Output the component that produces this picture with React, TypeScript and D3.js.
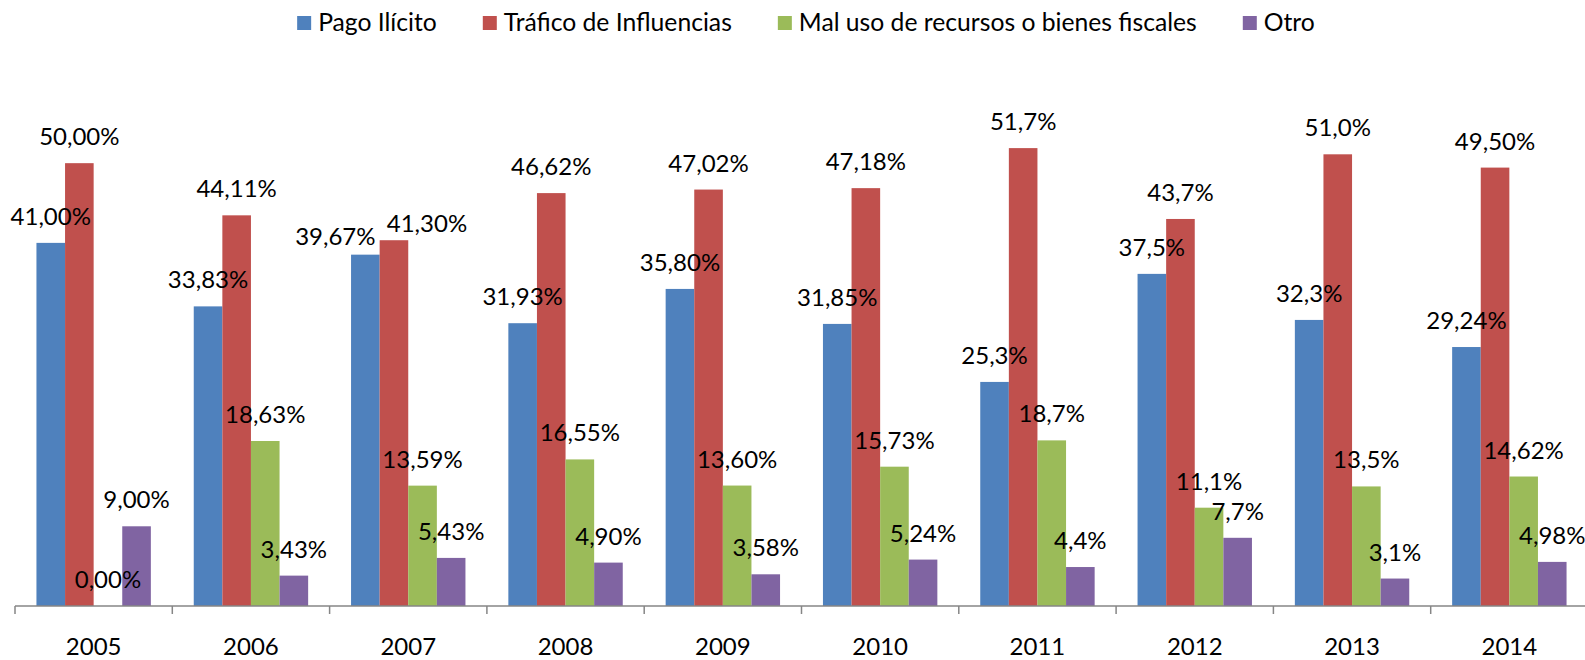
import * as React from "react";
import * as d3 from "d3";

// años del eje x
const years = ["2005", "2006", "2007", "2008", "2009", "2010", "2011", "2012", "2013", "2014"];

const seriesNames = [
  "Pago Ilícito",
  "Tráfico de Influencias",
  "Mal uso de recursos o bienes fiscales",
  "Otro",
];
const seriesColors = ["#4F81BD", "#C0504D", "#9BBB59", "#8064A2"];

// etiquetas tal como salen en el gráfico (los valores se leen de ellas)
const pagoIlicito = ["41,00", "33,83", "39,67", "31,93", "35,80", "31,85", "25,3", "37,5", "32,3", "29,24"];
const traficoInfluencias = ["50,00", "44,11", "41,30", "46,62", "47,02", "47,18", "51,7", "43,7", "51,0", "49,50"];
const malUso = ["0,00", "18,63", "13,59", "16,55", "13,60", "15,73", "18,7", "11,1", "13,5", "14,62"];
const otro = ["9,00", "3,43", "5,43", "4,90", "3,58", "5,24", "4,4", "7,7", "3,1", "4,98"];

const allSeries = [pagoIlicito, traficoInfluencias, malUso, otro];
const toNum = (s: string) => parseFloat(s.replace(",", "."));

// etiquetas movidas a mano en el original (serie, año) -> desplazamiento
const labelNudges: Record<string, [number, number]> = {
  "0-2007": [-30, 8],
  "1-2007": [33, 10],
};

const FONT = "Lato, 'Open Sans', sans-serif";

function drawChart(svgEl: SVGSVGElement) {
  const width = 1585;
  const height = 660;
  const svg = d3.select(svgEl);
  svg.selectAll("*").remove();
  svg.attr("width", width).attr("height", height);

  const left = 15;
  const step = 157.3;
  const y0 = 606;

  const x = d3
    .scaleBand<string>()
    .domain(years)
    .range([left, left + step * years.length])
    .paddingInner(0)
    .paddingOuter(0);

  const xs = d3
    .scaleBand<number>()
    .domain(d3.range(seriesNames.length))
    .range([0, x.bandwidth()])
    .paddingInner(0)
    .paddingOuter(0.75);

  const y = d3.scaleLinear().domain([0, 60]).range([y0, 74.6]);

  // barras
  allSeries.forEach((labels, si) => {
    const g = svg.append("g").attr("fill", seriesColors[si]);
    g.selectAll("rect")
      .data(labels)
      .enter()
      .append("rect")
      .attr("x", (_d, i) => (x(years[i]) as number) + (xs(si) as number))
      .attr("width", xs.bandwidth())
      .attr("y", (d) => y(toNum(d)))
      .attr("height", (d) => y0 - y(toNum(d)));
  });

  // eje x
  const axis = svg.append("g").attr("stroke", "#868686").attr("stroke-width", 1.5);
  axis
    .append("line")
    .attr("x1", left)
    .attr("x2", left + step * years.length)
    .attr("y1", y0)
    .attr("y2", y0);
  axis
    .selectAll("line.tick")
    .data(d3.range(years.length + 1))
    .enter()
    .append("line")
    .attr("class", "tick")
    .attr("x1", (i) => left + step * i)
    .attr("x2", (i) => left + step * i)
    .attr("y1", y0)
    .attr("y2", y0 + 8);

  svg
    .append("g")
    .selectAll("text")
    .data(years)
    .enter()
    .append("text")
    .attr("x", (d) => (x(d) as number) + x.bandwidth() / 2)
    .attr("y", 655)
    .attr("text-anchor", "middle")
    .attr("font-family", FONT)
    .attr("font-size", 24)
    .attr("fill", "#000")
    .text((d) => d);

  // etiquetas de datos
  allSeries.forEach((labels, si) => {
    const nudge = (i: number) => labelNudges[`${si}-${years[i]}`] || [0, 0];
    svg
      .append("g")
      .selectAll("text")
      .data(labels)
      .enter()
      .append("text")
      .attr(
        "x",
        (_d, i) => (x(years[i]) as number) + (xs(si) as number) + xs.bandwidth() / 2 + nudge(i)[0]
      )
      .attr("y", (d, i) => y(toNum(d)) - 18 + nudge(i)[1])
      .attr("text-anchor", "middle")
      .attr("font-family", FONT)
      .attr("font-size", 24)
      .attr("fill", "#000")
      .text((d) => d + "%");
  });

  // leyenda
  const legend = svg.append("g");
  const items = legend
    .selectAll("g")
    .data(seriesNames)
    .enter()
    .append("g");
  items
    .append("rect")
    .attr("width", 14)
    .attr("height", 14)
    .attr("y", 16)
    .attr("fill", (_d, i) => seriesColors[i]);
  items
    .append("text")
    .attr("x", 21)
    .attr("y", 31)
    .attr("font-family", FONT)
    .attr("font-size", 24.7)
    .attr("fill", "#000")
    .text((d) => d);

  let cursor = 0;
  items.each(function () {
    const t = d3.select(this).select("text").node() as SVGTextElement;
    d3.select(this).attr("transform", `translate(${cursor},0)`);
    cursor += 21 + t.getComputedTextLength() + 46;
  });
  const total = cursor - 46;
  legend.attr("transform", `translate(${806 - total / 2},0)`);
}

export default function App() {
  const ref = React.useRef<SVGSVGElement>(null);
  React.useEffect(() => {
    document.body.style.margin = "0";
    if (ref.current) drawChart(ref.current);
  }, []);
  return <svg ref={ref} style={{ display: "block", background: "#fff" }} />;
}
